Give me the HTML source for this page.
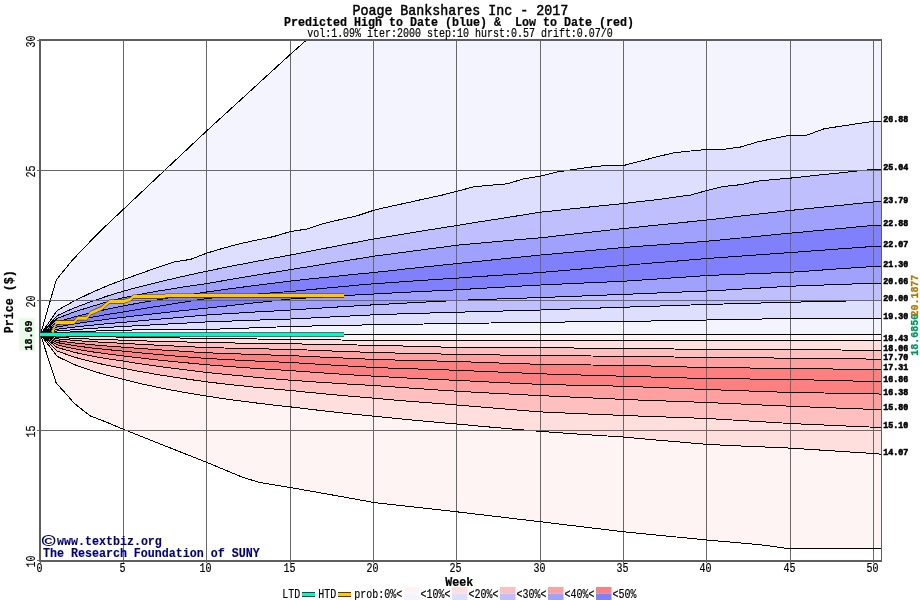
<!DOCTYPE html>
<html><head><meta charset="utf-8"><title>Poage Bankshares Inc - 2017</title>
<style>html,body{margin:0;padding:0;background:#fff}svg{display:block}text{font-family:"Liberation Mono",monospace;white-space:pre}</style></head><body>
<svg width="920" height="600" viewBox="0 0 920 600" xml:space="preserve">
<rect width="920" height="600" fill="#fff"/>
<defs><clipPath id="cp"><rect x="40.0" y="40.0" width="841.0" height="521.0"/></clipPath></defs>
<g clip-path="url(#cp)">
<polygon points="40.5,334.5 56.2,280.0 72.5,260.0 98.8,232.5 123.2,209.5 165.0,170.0 206.8,130.8 290.5,54.2 306.5,40.0 307.0,30.0 881.0,30.0 881.0,121.3 874.0,121.3 857.3,123.7 840.7,126.2 824.0,128.8 807.3,135.0 790.7,135.0 774.0,138.4 757.3,142.0 740.6,147.0 724.0,149.3 707.3,149.4 690.6,151.0 674.0,152.8 657.3,156.7 640.6,161.1 624.0,165.4 607.3,165.4 590.6,167.1 573.9,169.4 557.3,172.0 540.6,176.2 523.9,178.8 507.3,183.8 490.6,185.2 473.9,186.8 457.3,191.2 440.6,195.5 423.9,199.0 407.2,202.8 390.6,206.3 373.9,210.2 357.2,215.8 340.6,219.5 323.9,223.5 307.2,229.0 290.6,231.5 273.9,236.5 257.2,240.0 240.5,243.5 223.9,248.0 207.2,253.0 190.5,259.4 173.9,261.9 157.2,267.5 140.5,273.5 123.9,279.4 107.2,285.8 90.5,293.1 73.8,301.1 57.2,310.5 40.5,334.5" fill="#f4f4ff"/>
<polygon points="40.5,334.5 57.2,310.5 73.8,301.1 90.5,293.1 107.2,285.8 123.9,279.4 140.5,273.5 157.2,267.5 173.9,261.9 190.5,259.4 207.2,253.0 223.9,248.0 240.5,243.5 257.2,240.0 273.9,236.5 290.6,231.5 307.2,229.0 323.9,223.5 340.6,219.5 357.2,215.8 373.9,210.2 390.6,206.3 407.2,202.8 423.9,199.0 440.6,195.5 457.3,191.2 473.9,186.8 490.6,185.2 507.3,183.8 523.9,178.8 540.6,176.2 557.3,172.0 573.9,169.4 590.6,167.1 607.3,165.4 624.0,165.4 640.6,161.1 657.3,156.7 674.0,152.8 690.6,151.0 707.3,149.4 724.0,149.3 740.6,147.0 757.3,142.0 774.0,138.4 790.7,135.0 807.3,135.0 824.0,128.8 840.7,126.2 857.3,123.7 874.0,121.3 881.0,121.3 881.0,169.3 874.0,169.3 857.3,171.0 840.7,172.8 824.0,174.5 807.3,176.3 790.7,178.1 774.0,179.5 757.3,181.2 740.6,184.7 724.0,186.4 707.3,190.4 690.6,195.0 674.0,197.3 657.3,199.6 640.6,201.5 624.0,203.5 607.3,205.2 590.6,206.9 573.9,208.6 557.3,210.4 540.6,212.2 523.9,214.8 507.3,217.5 490.6,220.1 473.9,222.7 457.3,225.4 440.6,228.1 423.9,230.7 407.2,233.5 390.6,236.2 373.9,239.0 357.2,242.1 340.6,245.3 323.9,248.5 307.2,251.7 290.6,255.0 273.9,258.1 257.2,261.2 240.5,264.4 223.9,267.7 207.2,271.1 190.5,274.7 173.9,278.5 157.2,282.4 140.5,286.6 123.9,291.0 107.2,296.1 90.5,301.8 73.8,308.1 57.2,315.6 40.5,334.5" fill="#dedefe"/>
<polygon points="40.5,334.5 57.2,315.6 73.8,308.1 90.5,301.8 107.2,296.1 123.9,291.0 140.5,286.6 157.2,282.4 173.9,278.5 190.5,274.7 207.2,271.1 223.9,267.7 240.5,264.4 257.2,261.2 273.9,258.1 290.6,255.0 307.2,251.7 323.9,248.5 340.6,245.3 357.2,242.1 373.9,239.0 390.6,236.2 407.2,233.5 423.9,230.7 440.6,228.1 457.3,225.4 473.9,222.7 490.6,220.1 507.3,217.5 523.9,214.8 540.6,212.2 557.3,210.4 573.9,208.6 590.6,206.9 607.3,205.2 624.0,203.5 640.6,201.5 657.3,199.6 674.0,197.3 690.6,195.0 707.3,190.4 724.0,186.4 740.6,184.7 757.3,181.2 774.0,179.5 790.7,178.1 807.3,176.3 824.0,174.5 840.7,172.8 857.3,171.0 874.0,169.3 881.0,169.3 881.0,201.9 874.0,201.9 857.3,203.6 840.7,205.3 824.0,207.0 807.3,208.7 790.7,210.4 774.0,212.3 757.3,214.2 740.6,216.1 724.0,218.1 707.3,220.0 690.6,221.7 674.0,223.4 657.3,225.1 640.6,226.8 624.0,228.5 607.3,230.3 590.6,232.2 573.9,234.0 557.3,235.9 540.6,237.8 523.9,239.2 507.3,240.6 490.6,242.1 473.9,243.7 457.3,245.2 440.6,247.4 423.9,249.6 407.2,251.8 390.6,254.0 373.9,256.2 357.2,258.9 340.6,261.5 323.9,264.2 307.2,266.9 290.6,269.6 273.9,272.3 257.2,275.0 240.5,277.8 223.9,280.6 207.2,283.5 190.5,285.9 173.9,288.5 157.2,291.2 140.5,294.3 123.9,297.6 107.2,301.9 90.5,306.8 73.8,312.1 57.2,318.4 40.5,334.5" fill="#bfbffe"/>
<polygon points="40.5,334.5 57.2,318.4 73.8,312.1 90.5,306.8 107.2,301.9 123.9,297.6 140.5,294.3 157.2,291.2 173.9,288.5 190.5,285.9 207.2,283.5 223.9,280.6 240.5,277.8 257.2,275.0 273.9,272.3 290.6,269.6 307.2,266.9 323.9,264.2 340.6,261.5 357.2,258.9 373.9,256.2 390.6,254.0 407.2,251.8 423.9,249.6 440.6,247.4 457.3,245.2 473.9,243.7 490.6,242.1 507.3,240.6 523.9,239.2 540.6,237.8 557.3,235.9 573.9,234.0 590.6,232.2 607.3,230.3 624.0,228.5 640.6,226.8 657.3,225.1 674.0,223.4 690.6,221.7 707.3,220.0 724.0,218.1 740.6,216.1 757.3,214.2 774.0,212.3 790.7,210.4 807.3,208.7 824.0,207.0 840.7,205.3 857.3,203.6 874.0,201.9 881.0,201.9 881.0,225.4 874.0,225.4 857.3,226.9 840.7,228.5 824.0,230.0 807.3,231.6 790.7,233.1 774.0,234.7 757.3,236.4 740.6,238.0 724.0,239.6 707.3,241.2 690.6,242.5 674.0,243.7 657.3,245.0 640.6,246.2 624.0,247.5 607.3,249.0 590.6,250.5 573.9,252.0 557.3,253.5 540.6,255.0 523.9,256.7 507.3,258.4 490.6,260.1 473.9,261.8 457.3,263.5 440.6,265.3 423.9,267.0 407.2,268.8 390.6,270.7 373.9,272.5 357.2,274.1 340.6,275.8 323.9,277.5 307.2,279.2 290.6,281.0 273.9,283.1 257.2,285.2 240.5,287.4 223.9,289.6 207.2,291.9 190.5,294.5 173.9,297.1 157.2,299.9 140.5,302.7 123.9,305.8 107.2,309.2 90.5,312.9 73.8,317.1 57.2,322.0 40.5,334.5" fill="#a0a0fd"/>
<polygon points="40.5,334.5 57.2,322.0 73.8,317.1 90.5,312.9 107.2,309.2 123.9,305.8 140.5,302.7 157.2,299.9 173.9,297.1 190.5,294.5 207.2,291.9 223.9,289.6 240.5,287.4 257.2,285.2 273.9,283.1 290.6,281.0 307.2,279.2 323.9,277.5 340.6,275.8 357.2,274.1 373.9,272.5 390.6,270.7 407.2,268.8 423.9,267.0 440.6,265.3 457.3,263.5 473.9,261.8 490.6,260.1 507.3,258.4 523.9,256.7 540.6,255.0 557.3,253.5 573.9,252.0 590.6,250.5 607.3,249.0 624.0,247.5 640.6,246.2 657.3,245.0 674.0,243.7 690.6,242.5 707.3,241.2 724.0,239.6 740.6,238.0 757.3,236.4 774.0,234.7 790.7,233.1 807.3,231.6 824.0,230.0 840.7,228.5 857.3,226.9 874.0,225.4 881.0,225.4 881.0,246.4 874.0,246.4 857.3,247.6 840.7,248.8 824.0,250.1 807.3,251.3 790.7,252.5 774.0,253.7 757.3,254.9 740.6,256.1 724.0,257.3 707.3,258.5 690.6,259.9 674.0,261.3 657.3,262.6 640.6,264.0 624.0,265.4 607.3,266.8 590.6,268.2 573.9,269.7 557.3,271.1 540.6,272.5 523.9,273.6 507.3,274.7 490.6,275.8 473.9,276.9 457.3,278.1 440.6,279.2 423.9,280.3 407.2,281.4 390.6,282.6 373.9,283.8 357.2,285.2 340.6,286.8 323.9,288.3 307.2,289.9 290.6,291.5 273.9,292.7 257.2,294.1 240.5,295.5 223.9,296.9 207.2,298.5 190.5,301.1 173.9,303.7 157.2,306.4 140.5,309.1 123.9,311.9 107.2,314.5 90.5,317.5 73.8,320.8 57.2,324.7 40.5,334.5" fill="#8080fc"/>
<polygon points="40.5,334.5 57.2,324.7 73.8,320.8 90.5,317.5 107.2,314.5 123.9,311.9 140.5,309.1 157.2,306.4 173.9,303.7 190.5,301.1 207.2,298.5 223.9,296.9 240.5,295.5 257.2,294.1 273.9,292.7 290.6,291.5 307.2,289.9 323.9,288.3 340.6,286.8 357.2,285.2 373.9,283.8 390.6,282.6 407.2,281.4 423.9,280.3 440.6,279.2 457.3,278.1 473.9,276.9 490.6,275.8 507.3,274.7 523.9,273.6 540.6,272.5 557.3,271.1 573.9,269.7 590.6,268.2 607.3,266.8 624.0,265.4 640.6,264.0 657.3,262.6 674.0,261.3 690.6,259.9 707.3,258.5 724.0,257.3 740.6,256.1 757.3,254.9 774.0,253.7 790.7,252.5 807.3,251.3 824.0,250.1 840.7,248.8 857.3,247.6 874.0,246.4 881.0,246.4 881.0,266.4 874.0,266.4 857.3,267.6 840.7,268.7 824.0,269.9 807.3,271.1 790.7,272.2 774.0,272.9 757.3,273.5 740.6,274.2 724.0,274.8 707.3,275.5 690.6,276.7 674.0,277.8 657.3,279.0 640.6,280.1 624.0,281.2 607.3,282.0 590.6,282.7 573.9,283.5 557.3,284.2 540.6,285.0 523.9,285.9 507.3,286.9 490.6,287.8 473.9,288.8 457.3,289.8 440.6,290.6 423.9,291.4 407.2,292.2 390.6,293.1 373.9,294.0 357.2,294.9 340.6,295.9 323.9,296.9 307.2,297.9 290.6,299.0 273.9,300.8 257.2,302.6 240.5,304.4 223.9,306.3 207.2,308.1 190.5,309.8 173.9,311.6 157.2,313.4 140.5,315.3 123.9,317.2 107.2,319.3 90.5,321.5 73.8,324.0 57.2,327.0 40.5,334.5" fill="#8080fc"/>
<polygon points="40.5,334.5 57.2,327.0 73.8,324.0 90.5,321.5 107.2,319.3 123.9,317.2 140.5,315.3 157.2,313.4 173.9,311.6 190.5,309.8 207.2,308.1 223.9,306.3 240.5,304.4 257.2,302.6 273.9,300.8 290.6,299.0 307.2,297.9 323.9,296.9 340.6,295.9 357.2,294.9 373.9,294.0 390.6,293.1 407.2,292.2 423.9,291.4 440.6,290.6 457.3,289.8 473.9,288.8 490.6,287.8 507.3,286.9 523.9,285.9 540.6,285.0 557.3,284.2 573.9,283.5 590.6,282.7 607.3,282.0 624.0,281.2 640.6,280.1 657.3,279.0 674.0,277.8 690.6,276.7 707.3,275.5 724.0,274.8 740.6,274.2 757.3,273.5 774.0,272.9 790.7,272.2 807.3,271.1 824.0,269.9 840.7,268.7 857.3,267.6 874.0,266.4 881.0,266.4 881.0,283.2 874.0,283.2 857.3,283.8 840.7,284.4 824.0,285.0 807.3,285.6 790.7,286.2 774.0,287.2 757.3,288.2 740.6,289.1 724.0,290.1 707.3,291.0 690.6,291.7 674.0,292.3 657.3,293.0 640.6,293.7 624.0,294.4 607.3,295.0 590.6,295.7 573.9,296.3 557.3,296.9 540.6,297.6 523.9,298.1 507.3,298.7 490.6,299.2 473.9,299.8 457.3,300.4 440.6,301.3 423.9,302.1 407.2,303.0 390.6,303.9 373.9,304.8 357.2,305.8 340.6,306.8 323.9,307.9 307.2,308.9 290.6,310.0 273.9,311.0 257.2,311.9 240.5,312.9 223.9,313.9 207.2,315.0 190.5,316.4 173.9,317.9 157.2,319.3 140.5,320.8 123.9,322.3 107.2,323.7 90.5,325.3 73.8,327.1 57.2,329.2 40.5,334.5" fill="#a0a0fd"/>
<polygon points="40.5,334.5 57.2,329.2 73.8,327.1 90.5,325.3 107.2,323.7 123.9,322.3 140.5,320.8 157.2,319.3 173.9,317.9 190.5,316.4 207.2,315.0 223.9,313.9 240.5,312.9 257.2,311.9 273.9,311.0 290.6,310.0 307.2,308.9 323.9,307.9 340.6,306.8 357.2,305.8 373.9,304.8 390.6,303.9 407.2,303.0 423.9,302.1 440.6,301.3 457.3,300.4 473.9,299.8 490.6,299.2 507.3,298.7 523.9,298.1 540.6,297.6 557.3,296.9 573.9,296.3 590.6,295.7 607.3,295.0 624.0,294.4 640.6,293.7 657.3,293.0 674.0,292.3 690.6,291.7 707.3,291.0 724.0,290.1 740.6,289.1 757.3,288.2 774.0,287.2 790.7,286.2 807.3,285.6 824.0,285.0 840.7,284.4 857.3,283.8 874.0,283.2 881.0,283.2 881.0,300.4 874.0,300.4 857.3,300.8 840.7,301.1 824.0,301.5 807.3,301.9 790.7,302.2 774.0,302.7 757.3,303.1 740.6,303.5 724.0,304.0 707.3,304.4 690.6,305.0 674.0,305.5 657.3,306.1 640.6,306.7 624.0,307.2 607.3,307.8 590.6,308.3 573.9,308.9 557.3,309.4 540.6,310.0 523.9,310.4 507.3,310.9 490.6,311.3 473.9,311.8 457.3,312.2 440.6,312.7 423.9,313.2 407.2,313.7 390.6,314.2 373.9,314.8 357.2,315.6 340.6,316.5 323.9,317.3 307.2,318.2 290.6,319.0 273.9,319.5 257.2,320.1 240.5,320.7 223.9,321.3 207.2,321.9 190.5,322.8 173.9,323.7 157.2,324.6 140.5,325.5 123.9,326.5 107.2,327.4 90.5,328.5 73.8,329.7 57.2,331.0 40.5,334.5" fill="#bfbffe"/>
<polygon points="40.5,334.5 57.2,331.0 73.8,329.7 90.5,328.5 107.2,327.4 123.9,326.5 140.5,325.5 157.2,324.6 173.9,323.7 190.5,322.8 207.2,321.9 223.9,321.3 240.5,320.7 257.2,320.1 273.9,319.5 290.6,319.0 307.2,318.2 323.9,317.3 340.6,316.5 357.2,315.6 373.9,314.8 390.6,314.2 407.2,313.7 423.9,313.2 440.6,312.7 457.3,312.2 473.9,311.8 490.6,311.3 507.3,310.9 523.9,310.4 540.6,310.0 557.3,309.4 573.9,308.9 590.6,308.3 607.3,307.8 624.0,307.2 640.6,306.7 657.3,306.1 674.0,305.5 690.6,305.0 707.3,304.4 724.0,304.0 740.6,303.5 757.3,303.1 774.0,302.7 790.7,302.2 807.3,301.9 824.0,301.5 840.7,301.1 857.3,300.8 874.0,300.4 881.0,300.4 881.0,318.5 874.0,318.5 857.3,318.5 840.7,318.5 824.0,318.5 807.3,318.5 790.7,318.5 774.0,318.8 757.3,319.1 740.6,319.4 724.0,319.7 707.3,320.0 690.6,320.3 674.0,320.6 657.3,320.9 640.6,321.2 624.0,321.5 607.3,321.6 590.6,321.8 573.9,321.9 557.3,322.1 540.6,322.2 523.9,322.5 507.3,322.7 490.6,323.0 473.9,323.2 457.3,323.5 440.6,323.7 423.9,324.0 407.2,324.2 390.6,324.5 373.9,324.8 357.2,325.1 340.6,325.4 323.9,325.8 307.2,326.1 290.6,326.5 273.9,327.1 257.2,327.7 240.5,328.3 223.9,328.9 207.2,329.4 190.5,329.4 173.9,329.5 157.2,329.7 140.5,329.9 123.9,330.1 107.2,330.6 90.5,331.2 73.8,331.8 57.2,332.6 40.5,334.5" fill="#dedefe"/>
<polygon points="40.5,334.5 57.2,332.6 73.8,331.8 90.5,331.2 107.2,330.6 123.9,330.1 140.5,329.9 157.2,329.7 173.9,329.5 190.5,329.4 207.2,329.4 223.9,328.9 240.5,328.3 257.2,327.7 273.9,327.1 290.6,326.5 307.2,326.1 323.9,325.8 340.6,325.4 357.2,325.1 373.9,324.8 390.6,324.5 407.2,324.2 423.9,324.0 440.6,323.7 457.3,323.5 473.9,323.2 490.6,323.0 507.3,322.7 523.9,322.5 540.6,322.2 557.3,322.1 573.9,321.9 590.6,321.8 607.3,321.6 624.0,321.5 640.6,321.2 657.3,320.9 674.0,320.6 690.6,320.3 707.3,320.0 724.0,319.7 740.6,319.4 757.3,319.1 774.0,318.8 790.7,318.5 807.3,318.5 824.0,318.5 840.7,318.5 857.3,318.5 874.0,318.5 881.0,318.5 881.0,334.5 40.0,334.5" fill="#f4f4ff"/>
<polygon points="40.0,334.5 881.0,334.5 881.0,340.6 879.5,340.6 878.5,340.4 874.0,340.4 857.3,340.4 840.7,340.4 824.0,340.4 807.3,340.4 790.7,340.4 774.0,340.4 757.3,340.4 740.6,340.4 724.0,340.4 707.3,340.4 690.6,340.4 674.0,340.4 657.3,340.4 640.6,340.4 624.0,340.4 607.3,340.4 590.6,340.4 573.9,340.4 557.3,340.4 540.6,340.4 523.9,340.4 507.3,340.4 490.6,340.4 473.9,340.4 457.3,340.4 440.6,340.4 423.9,340.4 407.2,340.4 390.6,340.4 373.9,340.4 357.2,340.2 340.6,340.0 323.9,339.8 307.2,339.6 290.6,339.4 273.9,339.2 257.2,339.0 240.5,338.8 223.9,338.6 207.2,338.4 190.5,338.2 173.9,337.9 157.2,337.7 140.5,337.4 123.9,337.1 107.2,336.9 90.5,336.6 73.8,336.2 57.2,335.8 40.5,334.5" fill="#fff4f4"/>
<polygon points="40.5,334.5 57.2,335.8 73.8,336.2 90.5,336.6 107.2,336.9 123.9,337.1 140.5,337.4 157.2,337.7 173.9,337.9 190.5,338.2 207.2,338.4 223.9,338.6 240.5,338.8 257.2,339.0 273.9,339.2 290.6,339.4 307.2,339.6 323.9,339.8 340.6,340.0 357.2,340.2 373.9,340.4 390.6,340.4 407.2,340.4 423.9,340.4 440.6,340.4 457.3,340.4 473.9,340.4 490.6,340.4 507.3,340.4 523.9,340.4 540.6,340.4 557.3,340.4 573.9,340.4 590.6,340.4 607.3,340.4 624.0,340.4 640.6,340.4 657.3,340.4 674.0,340.4 690.6,340.4 707.3,340.4 724.0,340.4 740.6,340.4 757.3,340.4 774.0,340.4 790.7,340.4 807.3,340.4 824.0,340.4 840.7,340.4 857.3,340.4 874.0,340.4 878.5,340.4 879.5,340.6 881.0,340.6 881.0,350.4 879.5,350.4 878.5,350.4 874.0,350.4 857.3,350.2 840.7,350.0 824.0,349.8 807.3,349.6 790.7,349.4 774.0,349.4 757.3,349.4 740.6,349.4 724.0,349.4 707.3,349.4 690.6,349.2 674.0,349.0 657.3,348.8 640.6,348.6 624.0,348.4 607.3,348.3 590.6,348.2 573.9,348.0 557.3,347.9 540.6,347.8 523.9,347.7 507.3,347.7 490.6,347.6 473.9,347.6 457.3,347.5 440.6,347.0 423.9,346.6 407.2,346.1 390.6,345.7 373.9,345.2 357.2,345.0 340.6,344.7 323.9,344.4 307.2,344.1 290.6,343.8 273.9,343.5 257.2,343.3 240.5,343.1 223.9,342.8 207.2,342.5 190.5,342.1 173.9,341.7 157.2,341.3 140.5,340.8 123.9,340.2 107.2,339.7 90.5,339.1 73.8,338.3 57.2,337.3 40.5,334.5" fill="#ffdede"/>
<polygon points="40.5,334.5 57.2,337.3 73.8,338.3 90.5,339.1 107.2,339.7 123.9,340.2 140.5,340.8 157.2,341.3 173.9,341.7 190.5,342.1 207.2,342.5 223.9,342.8 240.5,343.1 257.2,343.3 273.9,343.5 290.6,343.8 307.2,344.1 323.9,344.4 340.6,344.7 357.2,345.0 373.9,345.2 390.6,345.7 407.2,346.1 423.9,346.6 440.6,347.0 457.3,347.5 473.9,347.6 490.6,347.6 507.3,347.7 523.9,347.7 540.6,347.8 557.3,347.9 573.9,348.0 590.6,348.2 607.3,348.3 624.0,348.4 640.6,348.6 657.3,348.8 674.0,349.0 690.6,349.2 707.3,349.4 724.0,349.4 740.6,349.4 757.3,349.4 774.0,349.4 790.7,349.4 807.3,349.6 824.0,349.8 840.7,350.0 857.3,350.2 874.0,350.4 878.5,350.4 879.5,350.4 881.0,350.4 881.0,359.5 879.5,359.5 878.5,359.1 874.0,359.1 857.3,358.9 840.7,358.7 824.0,358.5 807.3,358.3 790.7,358.1 774.0,358.0 757.3,357.9 740.6,357.8 724.0,357.6 707.3,357.5 690.6,357.3 674.0,357.0 657.3,356.8 640.6,356.5 624.0,356.2 607.3,356.1 590.6,356.0 573.9,355.8 557.3,355.7 540.6,355.5 523.9,355.3 507.3,355.1 490.6,354.9 473.9,354.6 457.3,354.4 440.6,354.0 423.9,353.7 407.2,353.3 390.6,352.9 373.9,352.5 357.2,351.9 340.6,351.3 323.9,350.7 307.2,350.0 290.6,349.4 273.9,349.1 257.2,348.8 240.5,348.4 223.9,348.0 207.2,347.5 190.5,346.8 173.9,346.0 157.2,345.2 140.5,344.3 123.9,343.4 107.2,342.5 90.5,341.6 73.8,340.4 57.2,338.8 40.5,334.5" fill="#ffbfbf"/>
<polygon points="40.5,334.5 57.2,338.8 73.8,340.4 90.5,341.6 107.2,342.5 123.9,343.4 140.5,344.3 157.2,345.2 173.9,346.0 190.5,346.8 207.2,347.5 223.9,348.0 240.5,348.4 257.2,348.8 273.9,349.1 290.6,349.4 307.2,350.0 323.9,350.7 340.6,351.3 357.2,351.9 373.9,352.5 390.6,352.9 407.2,353.3 423.9,353.7 440.6,354.0 457.3,354.4 473.9,354.6 490.6,354.9 507.3,355.1 523.9,355.3 540.6,355.5 557.3,355.7 573.9,355.8 590.6,356.0 607.3,356.1 624.0,356.2 640.6,356.5 657.3,356.8 674.0,357.0 690.6,357.3 707.3,357.5 724.0,357.6 740.6,357.8 757.3,357.9 774.0,358.0 790.7,358.1 807.3,358.3 824.0,358.5 840.7,358.7 857.3,358.9 874.0,359.1 878.5,359.1 879.5,359.5 881.0,359.5 881.0,369.7 879.5,369.7 878.5,369.4 874.0,369.4 857.3,369.2 840.7,369.1 824.0,368.9 807.3,368.7 790.7,368.5 774.0,368.3 757.3,368.1 740.6,367.9 724.0,367.7 707.3,367.5 690.6,367.1 674.0,366.6 657.3,366.2 640.6,365.7 624.0,365.2 607.3,365.1 590.6,365.0 573.9,364.8 557.3,364.6 540.6,364.4 523.9,363.8 507.3,363.3 490.6,362.7 473.9,362.1 457.3,361.5 440.6,361.1 423.9,360.7 407.2,360.3 390.6,359.9 373.9,359.4 357.2,358.7 340.6,357.9 323.9,357.2 307.2,356.4 290.6,355.6 273.9,355.1 257.2,354.6 240.5,354.0 223.9,353.4 207.2,352.8 190.5,351.8 173.9,350.7 157.2,349.7 140.5,348.5 123.9,347.2 107.2,346.0 90.5,344.6 73.8,342.9 57.2,340.7 40.5,334.5" fill="#ffa0a0"/>
<polygon points="40.5,334.5 57.2,340.7 73.8,342.9 90.5,344.6 107.2,346.0 123.9,347.2 140.5,348.5 157.2,349.7 173.9,350.7 190.5,351.8 207.2,352.8 223.9,353.4 240.5,354.0 257.2,354.6 273.9,355.1 290.6,355.6 307.2,356.4 323.9,357.2 340.6,357.9 357.2,358.7 373.9,359.4 390.6,359.9 407.2,360.3 423.9,360.7 440.6,361.1 457.3,361.5 473.9,362.1 490.6,362.7 507.3,363.3 523.9,363.8 540.6,364.4 557.3,364.6 573.9,364.8 590.6,365.0 607.3,365.1 624.0,365.2 640.6,365.7 657.3,366.2 674.0,366.6 690.6,367.1 707.3,367.5 724.0,367.7 740.6,367.9 757.3,368.1 774.0,368.3 790.7,368.5 807.3,368.7 824.0,368.9 840.7,369.1 857.3,369.2 874.0,369.4 878.5,369.4 879.5,369.7 881.0,369.7 881.0,381.6 879.5,381.6 878.5,381.5 874.0,381.5 857.3,381.1 840.7,380.7 824.0,380.3 807.3,379.8 790.7,379.4 774.0,379.2 757.3,379.1 740.6,378.9 724.0,378.7 707.3,378.5 690.6,378.1 674.0,377.6 657.3,377.2 640.6,376.7 624.0,376.2 607.3,375.8 590.6,375.3 573.9,374.8 557.3,374.3 540.6,373.8 523.9,373.1 507.3,372.4 490.6,371.7 473.9,371.0 457.3,370.2 440.6,369.8 423.9,369.2 407.2,368.7 390.6,368.1 373.9,367.5 357.2,366.5 340.6,365.6 323.9,364.6 307.2,363.5 290.6,362.5 273.9,361.8 257.2,361.1 240.5,360.3 223.9,359.4 207.2,358.5 190.5,357.2 173.9,355.9 157.2,354.4 140.5,352.9 123.9,351.2 107.2,349.6 90.5,347.8 73.8,345.6 57.2,342.6 40.5,334.5" fill="#fd8080"/>
<polygon points="40.5,334.5 57.2,342.6 73.8,345.6 90.5,347.8 107.2,349.6 123.9,351.2 140.5,352.9 157.2,354.4 173.9,355.9 190.5,357.2 207.2,358.5 223.9,359.4 240.5,360.3 257.2,361.1 273.9,361.8 290.6,362.5 307.2,363.5 323.9,364.6 340.6,365.6 357.2,366.5 373.9,367.5 390.6,368.1 407.2,368.7 423.9,369.2 440.6,369.8 457.3,370.2 473.9,371.0 490.6,371.7 507.3,372.4 523.9,373.1 540.6,373.8 557.3,374.3 573.9,374.8 590.6,375.3 607.3,375.8 624.0,376.2 640.6,376.7 657.3,377.2 674.0,377.6 690.6,378.1 707.3,378.5 724.0,378.7 740.6,378.9 757.3,379.1 774.0,379.2 790.7,379.4 807.3,379.8 824.0,380.3 840.7,380.7 857.3,381.1 874.0,381.5 878.5,381.5 879.5,381.6 881.0,381.6 881.0,394.3 879.5,394.3 878.5,393.6 874.0,393.6 857.3,393.4 840.7,393.2 824.0,393.0 807.3,392.8 790.7,392.5 774.0,391.9 757.3,391.3 740.6,390.7 724.0,390.1 707.3,389.5 690.6,388.9 674.0,388.2 657.3,387.6 640.6,386.9 624.0,386.2 607.3,385.9 590.6,385.6 573.9,385.2 557.3,384.8 540.6,384.4 523.9,383.6 507.3,382.9 490.6,382.1 473.9,381.2 457.3,380.4 440.6,379.6 423.9,378.8 407.2,378.0 390.6,377.1 373.9,376.2 357.2,375.2 340.6,374.1 323.9,373.0 307.2,371.8 290.6,370.6 273.9,369.6 257.2,368.5 240.5,367.3 223.9,366.1 207.2,364.8 190.5,363.2 173.9,361.6 157.2,359.9 140.5,358.0 123.9,356.0 107.2,353.9 90.5,351.6 73.8,348.7 57.2,344.9 40.5,334.5" fill="#fd8080"/>
<polygon points="40.5,334.5 57.2,344.9 73.8,348.7 90.5,351.6 107.2,353.9 123.9,356.0 140.5,358.0 157.2,359.9 173.9,361.6 190.5,363.2 207.2,364.8 223.9,366.1 240.5,367.3 257.2,368.5 273.9,369.6 290.6,370.6 307.2,371.8 323.9,373.0 340.6,374.1 357.2,375.2 373.9,376.2 390.6,377.1 407.2,378.0 423.9,378.8 440.6,379.6 457.3,380.4 473.9,381.2 490.6,382.1 507.3,382.9 523.9,383.6 540.6,384.4 557.3,384.8 573.9,385.2 590.6,385.6 607.3,385.9 624.0,386.2 640.6,386.9 657.3,387.6 674.0,388.2 690.6,388.9 707.3,389.5 724.0,390.1 740.6,390.7 757.3,391.3 774.0,391.9 790.7,392.5 807.3,392.8 824.0,393.0 840.7,393.2 857.3,393.4 874.0,393.6 878.5,393.6 879.5,394.3 881.0,394.3 881.0,409.6 879.5,409.6 878.5,409.4 874.0,409.4 857.3,408.8 840.7,408.2 824.0,407.5 807.3,406.9 790.7,406.2 774.0,405.5 757.3,404.8 740.6,404.0 724.0,403.3 707.3,402.5 690.6,401.9 674.0,401.3 657.3,400.7 640.6,400.1 624.0,399.4 607.3,398.7 590.6,397.9 573.9,397.2 557.3,396.4 540.6,395.6 523.9,394.8 507.3,393.9 490.6,393.1 473.9,392.2 457.3,391.2 440.6,390.2 423.9,389.0 407.2,387.9 390.6,386.7 373.9,385.5 357.2,384.6 340.6,383.6 323.9,382.5 307.2,381.4 290.6,380.2 273.9,378.8 257.2,377.4 240.5,375.8 223.9,374.2 207.2,372.5 190.5,370.5 173.9,368.4 157.2,366.2 140.5,363.8 123.9,361.2 107.2,358.7 90.5,355.8 73.8,352.2 57.2,347.5 40.5,334.5" fill="#ffa0a0"/>
<polygon points="40.5,334.5 57.2,347.5 73.8,352.2 90.5,355.8 107.2,358.7 123.9,361.2 140.5,363.8 157.2,366.2 173.9,368.4 190.5,370.5 207.2,372.5 223.9,374.2 240.5,375.8 257.2,377.4 273.9,378.8 290.6,380.2 307.2,381.4 323.9,382.5 340.6,383.6 357.2,384.6 373.9,385.5 390.6,386.7 407.2,387.9 423.9,389.0 440.6,390.2 457.3,391.2 473.9,392.2 490.6,393.1 507.3,393.9 523.9,394.8 540.6,395.6 557.3,396.4 573.9,397.2 590.6,397.9 607.3,398.7 624.0,399.4 640.6,400.1 657.3,400.7 674.0,401.3 690.6,401.9 707.3,402.5 724.0,403.3 740.6,404.0 757.3,404.8 774.0,405.5 790.7,406.2 807.3,406.9 824.0,407.5 840.7,408.2 857.3,408.8 874.0,409.4 878.5,409.4 879.5,409.6 881.0,409.6 881.0,427.7 879.5,427.7 878.5,427.2 874.0,427.2 857.3,426.5 840.7,425.8 824.0,425.0 807.3,424.3 790.7,423.5 774.0,422.5 757.3,421.5 740.6,420.5 724.0,419.5 707.3,418.5 690.6,417.9 674.0,417.3 657.3,416.7 640.6,416.1 624.0,415.4 607.3,414.8 590.6,414.1 573.9,413.4 557.3,412.7 540.6,411.9 523.9,410.6 507.3,409.2 490.6,407.8 473.9,406.4 457.3,405.0 440.6,403.7 423.9,402.4 407.2,401.1 390.6,399.7 373.9,398.2 357.2,396.8 340.6,395.3 323.9,393.8 307.2,392.2 290.6,390.5 273.9,389.0 257.2,387.4 240.5,385.7 223.9,383.9 207.2,381.9 190.5,379.6 173.9,377.1 157.2,374.5 140.5,371.6 123.9,368.5 107.2,365.3 90.5,361.5 73.8,357.0 57.2,351.0 40.5,334.5" fill="#ffbfbf"/>
<polygon points="40.5,334.5 57.2,351.0 73.8,357.0 90.5,361.5 107.2,365.3 123.9,368.5 140.5,371.6 157.2,374.5 173.9,377.1 190.5,379.6 207.2,381.9 223.9,383.9 240.5,385.7 257.2,387.4 273.9,389.0 290.6,390.5 307.2,392.2 323.9,393.8 340.6,395.3 357.2,396.8 373.9,398.2 390.6,399.7 407.2,401.1 423.9,402.4 440.6,403.7 457.3,405.0 473.9,406.4 490.6,407.8 507.3,409.2 523.9,410.6 540.6,411.9 557.3,412.7 573.9,413.4 590.6,414.1 607.3,414.8 624.0,415.4 640.6,416.1 657.3,416.7 674.0,417.3 690.6,417.9 707.3,418.5 724.0,419.5 740.6,420.5 757.3,421.5 774.0,422.5 790.7,423.5 807.3,424.3 824.0,425.0 840.7,425.8 857.3,426.5 874.0,427.2 878.5,427.2 879.5,427.7 881.0,427.7 881.0,454.8 879.5,454.8 878.5,453.5 874.0,453.5 857.3,452.5 840.7,451.4 824.0,450.3 807.3,449.2 790.7,448.1 774.0,447.4 757.3,446.7 740.6,446.0 724.0,445.2 707.3,444.4 690.6,443.0 674.0,441.5 657.3,440.1 640.6,438.6 624.0,437.1 607.3,436.0 590.6,434.9 573.9,433.8 557.3,432.6 540.6,431.4 523.9,430.0 507.3,428.6 490.6,427.1 473.9,425.6 457.3,424.0 440.6,422.6 423.9,421.1 407.2,419.5 390.6,417.9 373.9,416.2 357.2,414.5 340.6,412.8 323.9,410.9 307.2,408.9 290.6,406.9 273.9,405.1 257.2,403.1 240.5,401.0 223.9,398.7 207.2,396.2 190.5,393.5 173.9,390.5 157.2,387.2 140.5,383.6 123.9,379.6 107.2,375.3 90.5,370.3 73.8,364.4 57.2,356.4 40.5,334.5" fill="#ffdede"/>
<polygon points="40.5,334.5 57.2,356.4 73.8,364.4 90.5,370.3 107.2,375.3 123.9,379.6 140.5,383.6 157.2,387.2 173.9,390.5 190.5,393.5 207.2,396.2 223.9,398.7 240.5,401.0 257.2,403.1 273.9,405.1 290.6,406.9 307.2,408.9 323.9,410.9 340.6,412.8 357.2,414.5 373.9,416.2 390.6,417.9 407.2,419.5 423.9,421.1 440.6,422.6 457.3,424.0 473.9,425.6 490.6,427.1 507.3,428.6 523.9,430.0 540.6,431.4 557.3,432.6 573.9,433.8 590.6,434.9 607.3,436.0 624.0,437.1 640.6,438.6 657.3,440.1 674.0,441.5 690.6,443.0 707.3,444.4 724.0,445.2 740.6,446.0 757.3,446.7 774.0,447.4 790.7,448.1 807.3,449.2 824.0,450.3 840.7,451.4 857.3,452.5 874.0,453.5 878.5,453.5 879.5,454.8 881.0,454.8 881.0,548.4 787.0,548.4 760.0,544.7 706.8,540.0 623.8,531.8 540.8,521.8 456.8,511.8 373.8,502.5 337.0,495.8 290.2,487.5 259.5,482.5 242.0,477.0 207.0,462.5 123.8,429.5 106.7,422.2 90.0,415.8 74.2,403.3 70.0,398.3 56.2,383.0 40.5,334.5" fill="#fff4f4"/>
</g>
<path d="M123.5 41.0V563.0M206.5 41.0V563.0M290.5 41.0V563.0M373.5 41.0V563.0M456.5 41.0V563.0M540.5 41.0V563.0M623.5 41.0V563.0M706.5 41.0V563.0M790.5 41.0V563.0M873.5 41.0V563.0" stroke="#686868" stroke-width="1" fill="none" shape-rendering="crispEdges"/>
<path d="M37 40.5H39M37 560.5H39M40.5 562V563" stroke="#686868" stroke-width="1" fill="none" shape-rendering="crispEdges"/>
<g clip-path="url(#cp)" stroke-linejoin="round" shape-rendering="crispEdges">
<polyline points="40.5,334.5 56.2,280.0 72.5,260.0 98.8,232.5 123.2,209.5 165.0,170.0 206.8,130.8 290.5,54.2 306.5,40.0" fill="none" stroke="#000" stroke-width="1.0" />
<polyline points="40.5,334.5 57.2,310.5 73.8,301.1 90.5,293.1 107.2,285.8 123.9,279.4 140.5,273.5 157.2,267.5 173.9,261.9 190.5,259.4 207.2,253.0 223.9,248.0 240.5,243.5 257.2,240.0 273.9,236.5 290.6,231.5 307.2,229.0 323.9,223.5 340.6,219.5 357.2,215.8 373.9,210.2 390.6,206.3 407.2,202.8 423.9,199.0 440.6,195.5 457.3,191.2 473.9,186.8 490.6,185.2 507.3,183.8 523.9,178.8 540.6,176.2 557.3,172.0 573.9,169.4 590.6,167.1 607.3,165.4 624.0,165.4 640.6,161.1 657.3,156.7 674.0,152.8 690.6,151.0 707.3,149.4 724.0,149.3 740.6,147.0 757.3,142.0 774.0,138.4 790.7,135.0 807.3,135.0 824.0,128.8 840.7,126.2 857.3,123.7 874.0,121.3 881.0,121.3" fill="none" stroke="#000" stroke-width="1.0" />
<polyline points="40.5,334.5 57.2,315.6 73.8,308.1 90.5,301.8 107.2,296.1 123.9,291.0 140.5,286.6 157.2,282.4 173.9,278.5 190.5,274.7 207.2,271.1 223.9,267.7 240.5,264.4 257.2,261.2 273.9,258.1 290.6,255.0 307.2,251.7 323.9,248.5 340.6,245.3 357.2,242.1 373.9,239.0 390.6,236.2 407.2,233.5 423.9,230.7 440.6,228.1 457.3,225.4 473.9,222.7 490.6,220.1 507.3,217.5 523.9,214.8 540.6,212.2 557.3,210.4 573.9,208.6 590.6,206.9 607.3,205.2 624.0,203.5 640.6,201.5 657.3,199.6 674.0,197.3 690.6,195.0 707.3,190.4 724.0,186.4 740.6,184.7 757.3,181.2 774.0,179.5 790.7,178.1 807.3,176.3 824.0,174.5 840.7,172.8 857.3,171.0 874.0,169.3 881.0,169.3" fill="none" stroke="#000" stroke-width="1.0" />
<polyline points="40.5,334.5 57.2,318.4 73.8,312.1 90.5,306.8 107.2,301.9 123.9,297.6 140.5,294.3 157.2,291.2 173.9,288.5 190.5,285.9 207.2,283.5 223.9,280.6 240.5,277.8 257.2,275.0 273.9,272.3 290.6,269.6 307.2,266.9 323.9,264.2 340.6,261.5 357.2,258.9 373.9,256.2 390.6,254.0 407.2,251.8 423.9,249.6 440.6,247.4 457.3,245.2 473.9,243.7 490.6,242.1 507.3,240.6 523.9,239.2 540.6,237.8 557.3,235.9 573.9,234.0 590.6,232.2 607.3,230.3 624.0,228.5 640.6,226.8 657.3,225.1 674.0,223.4 690.6,221.7 707.3,220.0 724.0,218.1 740.6,216.1 757.3,214.2 774.0,212.3 790.7,210.4 807.3,208.7 824.0,207.0 840.7,205.3 857.3,203.6 874.0,201.9 881.0,201.9" fill="none" stroke="#000" stroke-width="1.0" />
<polyline points="40.5,334.5 57.2,322.0 73.8,317.1 90.5,312.9 107.2,309.2 123.9,305.8 140.5,302.7 157.2,299.9 173.9,297.1 190.5,294.5 207.2,291.9 223.9,289.6 240.5,287.4 257.2,285.2 273.9,283.1 290.6,281.0 307.2,279.2 323.9,277.5 340.6,275.8 357.2,274.1 373.9,272.5 390.6,270.7 407.2,268.8 423.9,267.0 440.6,265.3 457.3,263.5 473.9,261.8 490.6,260.1 507.3,258.4 523.9,256.7 540.6,255.0 557.3,253.5 573.9,252.0 590.6,250.5 607.3,249.0 624.0,247.5 640.6,246.2 657.3,245.0 674.0,243.7 690.6,242.5 707.3,241.2 724.0,239.6 740.6,238.0 757.3,236.4 774.0,234.7 790.7,233.1 807.3,231.6 824.0,230.0 840.7,228.5 857.3,226.9 874.0,225.4 881.0,225.4" fill="none" stroke="#000" stroke-width="1.0" />
<polyline points="40.5,334.5 57.2,324.7 73.8,320.8 90.5,317.5 107.2,314.5 123.9,311.9 140.5,309.1 157.2,306.4 173.9,303.7 190.5,301.1 207.2,298.5 223.9,296.9 240.5,295.5 257.2,294.1 273.9,292.7 290.6,291.5 307.2,289.9 323.9,288.3 340.6,286.8 357.2,285.2 373.9,283.8 390.6,282.6 407.2,281.4 423.9,280.3 440.6,279.2 457.3,278.1 473.9,276.9 490.6,275.8 507.3,274.7 523.9,273.6 540.6,272.5 557.3,271.1 573.9,269.7 590.6,268.2 607.3,266.8 624.0,265.4 640.6,264.0 657.3,262.6 674.0,261.3 690.6,259.9 707.3,258.5 724.0,257.3 740.6,256.1 757.3,254.9 774.0,253.7 790.7,252.5 807.3,251.3 824.0,250.1 840.7,248.8 857.3,247.6 874.0,246.4 881.0,246.4" fill="none" stroke="#000" stroke-width="1.0" />
<polyline points="40.5,334.5 57.2,327.0 73.8,324.0 90.5,321.5 107.2,319.3 123.9,317.2 140.5,315.3 157.2,313.4 173.9,311.6 190.5,309.8 207.2,308.1 223.9,306.3 240.5,304.4 257.2,302.6 273.9,300.8 290.6,299.0 307.2,297.9 323.9,296.9 340.6,295.9 357.2,294.9 373.9,294.0 390.6,293.1 407.2,292.2 423.9,291.4 440.6,290.6 457.3,289.8 473.9,288.8 490.6,287.8 507.3,286.9 523.9,285.9 540.6,285.0 557.3,284.2 573.9,283.5 590.6,282.7 607.3,282.0 624.0,281.2 640.6,280.1 657.3,279.0 674.0,277.8 690.6,276.7 707.3,275.5 724.0,274.8 740.6,274.2 757.3,273.5 774.0,272.9 790.7,272.2 807.3,271.1 824.0,269.9 840.7,268.7 857.3,267.6 874.0,266.4 881.0,266.4" fill="none" stroke="#000" stroke-width="1.0" />
<polyline points="40.5,334.5 57.2,329.2 73.8,327.1 90.5,325.3 107.2,323.7 123.9,322.3 140.5,320.8 157.2,319.3 173.9,317.9 190.5,316.4 207.2,315.0 223.9,313.9 240.5,312.9 257.2,311.9 273.9,311.0 290.6,310.0 307.2,308.9 323.9,307.9 340.6,306.8 357.2,305.8 373.9,304.8 390.6,303.9 407.2,303.0 423.9,302.1 440.6,301.3 457.3,300.4 473.9,299.8 490.6,299.2 507.3,298.7 523.9,298.1 540.6,297.6 557.3,296.9 573.9,296.3 590.6,295.7 607.3,295.0 624.0,294.4 640.6,293.7 657.3,293.0 674.0,292.3 690.6,291.7 707.3,291.0 724.0,290.1 740.6,289.1 757.3,288.2 774.0,287.2 790.7,286.2 807.3,285.6 824.0,285.0 840.7,284.4 857.3,283.8 874.0,283.2 881.0,283.2" fill="none" stroke="#000" stroke-width="1.0" />
<polyline points="40.5,334.5 57.2,331.0 73.8,329.7 90.5,328.5 107.2,327.4 123.9,326.5 140.5,325.5 157.2,324.6 173.9,323.7 190.5,322.8 207.2,321.9 223.9,321.3 240.5,320.7 257.2,320.1 273.9,319.5 290.6,319.0 307.2,318.2 323.9,317.3 340.6,316.5 357.2,315.6 373.9,314.8 390.6,314.2 407.2,313.7 423.9,313.2 440.6,312.7 457.3,312.2 473.9,311.8 490.6,311.3 507.3,310.9 523.9,310.4 540.6,310.0 557.3,309.4 573.9,308.9 590.6,308.3 607.3,307.8 624.0,307.2 640.6,306.7 657.3,306.1 674.0,305.5 690.6,305.0 707.3,304.4 724.0,304.0 740.6,303.5 757.3,303.1 774.0,302.7 790.7,302.2 807.3,301.9 824.0,301.5 840.7,301.1 857.3,300.8 874.0,300.4 881.0,300.4" fill="none" stroke="#000" stroke-width="1.0" />
<polyline points="40.5,334.5 57.2,332.6 73.8,331.8 90.5,331.2 107.2,330.6 123.9,330.1 140.5,329.9 157.2,329.7 173.9,329.5 190.5,329.4 207.2,329.4 223.9,328.9 240.5,328.3 257.2,327.7 273.9,327.1 290.6,326.5 307.2,326.1 323.9,325.8 340.6,325.4 357.2,325.1 373.9,324.8 390.6,324.5 407.2,324.2 423.9,324.0 440.6,323.7 457.3,323.5 473.9,323.2 490.6,323.0 507.3,322.7 523.9,322.5 540.6,322.2 557.3,322.1 573.9,321.9 590.6,321.8 607.3,321.6 624.0,321.5 640.6,321.2 657.3,320.9 674.0,320.6 690.6,320.3 707.3,320.0 724.0,319.7 740.6,319.4 757.3,319.1 774.0,318.8 790.7,318.5 807.3,318.5 824.0,318.5 840.7,318.5 857.3,318.5 874.0,318.5 881.0,318.5" fill="none" stroke="#000" stroke-width="1.0" />
<polyline points="40.0,334.5 881.0,334.5" fill="none" stroke="#000" stroke-width="1" />
<polyline points="40.5,334.5 57.2,335.8 73.8,336.2 90.5,336.6 107.2,336.9 123.9,337.1 140.5,337.4 157.2,337.7 173.9,337.9 190.5,338.2 207.2,338.4 223.9,338.6 240.5,338.8 257.2,339.0 273.9,339.2 290.6,339.4 307.2,339.6 323.9,339.8 340.6,340.0 357.2,340.2 373.9,340.4 390.6,340.4 407.2,340.4 423.9,340.4 440.6,340.4 457.3,340.4 473.9,340.4 490.6,340.4 507.3,340.4 523.9,340.4 540.6,340.4 557.3,340.4 573.9,340.4 590.6,340.4 607.3,340.4 624.0,340.4 640.6,340.4 657.3,340.4 674.0,340.4 690.6,340.4 707.3,340.4 724.0,340.4 740.6,340.4 757.3,340.4 774.0,340.4 790.7,340.4 807.3,340.4 824.0,340.4 840.7,340.4 857.3,340.4 874.0,340.4 878.5,340.4 879.5,340.6 881.0,340.6" fill="none" stroke="#000" stroke-width="1.0" />
<polyline points="40.5,334.5 57.2,337.3 73.8,338.3 90.5,339.1 107.2,339.7 123.9,340.2 140.5,340.8 157.2,341.3 173.9,341.7 190.5,342.1 207.2,342.5 223.9,342.8 240.5,343.1 257.2,343.3 273.9,343.5 290.6,343.8 307.2,344.1 323.9,344.4 340.6,344.7 357.2,345.0 373.9,345.2 390.6,345.7 407.2,346.1 423.9,346.6 440.6,347.0 457.3,347.5 473.9,347.6 490.6,347.6 507.3,347.7 523.9,347.7 540.6,347.8 557.3,347.9 573.9,348.0 590.6,348.2 607.3,348.3 624.0,348.4 640.6,348.6 657.3,348.8 674.0,349.0 690.6,349.2 707.3,349.4 724.0,349.4 740.6,349.4 757.3,349.4 774.0,349.4 790.7,349.4 807.3,349.6 824.0,349.8 840.7,350.0 857.3,350.2 874.0,350.4 878.5,350.4 879.5,350.4 881.0,350.4" fill="none" stroke="#000" stroke-width="1.0" />
<polyline points="40.5,334.5 57.2,338.8 73.8,340.4 90.5,341.6 107.2,342.5 123.9,343.4 140.5,344.3 157.2,345.2 173.9,346.0 190.5,346.8 207.2,347.5 223.9,348.0 240.5,348.4 257.2,348.8 273.9,349.1 290.6,349.4 307.2,350.0 323.9,350.7 340.6,351.3 357.2,351.9 373.9,352.5 390.6,352.9 407.2,353.3 423.9,353.7 440.6,354.0 457.3,354.4 473.9,354.6 490.6,354.9 507.3,355.1 523.9,355.3 540.6,355.5 557.3,355.7 573.9,355.8 590.6,356.0 607.3,356.1 624.0,356.2 640.6,356.5 657.3,356.8 674.0,357.0 690.6,357.3 707.3,357.5 724.0,357.6 740.6,357.8 757.3,357.9 774.0,358.0 790.7,358.1 807.3,358.3 824.0,358.5 840.7,358.7 857.3,358.9 874.0,359.1 878.5,359.1 879.5,359.5 881.0,359.5" fill="none" stroke="#000" stroke-width="1.0" />
<polyline points="40.5,334.5 57.2,340.7 73.8,342.9 90.5,344.6 107.2,346.0 123.9,347.2 140.5,348.5 157.2,349.7 173.9,350.7 190.5,351.8 207.2,352.8 223.9,353.4 240.5,354.0 257.2,354.6 273.9,355.1 290.6,355.6 307.2,356.4 323.9,357.2 340.6,357.9 357.2,358.7 373.9,359.4 390.6,359.9 407.2,360.3 423.9,360.7 440.6,361.1 457.3,361.5 473.9,362.1 490.6,362.7 507.3,363.3 523.9,363.8 540.6,364.4 557.3,364.6 573.9,364.8 590.6,365.0 607.3,365.1 624.0,365.2 640.6,365.7 657.3,366.2 674.0,366.6 690.6,367.1 707.3,367.5 724.0,367.7 740.6,367.9 757.3,368.1 774.0,368.3 790.7,368.5 807.3,368.7 824.0,368.9 840.7,369.1 857.3,369.2 874.0,369.4 878.5,369.4 879.5,369.7 881.0,369.7" fill="none" stroke="#000" stroke-width="1.0" />
<polyline points="40.5,334.5 57.2,342.6 73.8,345.6 90.5,347.8 107.2,349.6 123.9,351.2 140.5,352.9 157.2,354.4 173.9,355.9 190.5,357.2 207.2,358.5 223.9,359.4 240.5,360.3 257.2,361.1 273.9,361.8 290.6,362.5 307.2,363.5 323.9,364.6 340.6,365.6 357.2,366.5 373.9,367.5 390.6,368.1 407.2,368.7 423.9,369.2 440.6,369.8 457.3,370.2 473.9,371.0 490.6,371.7 507.3,372.4 523.9,373.1 540.6,373.8 557.3,374.3 573.9,374.8 590.6,375.3 607.3,375.8 624.0,376.2 640.6,376.7 657.3,377.2 674.0,377.6 690.6,378.1 707.3,378.5 724.0,378.7 740.6,378.9 757.3,379.1 774.0,379.2 790.7,379.4 807.3,379.8 824.0,380.3 840.7,380.7 857.3,381.1 874.0,381.5 878.5,381.5 879.5,381.6 881.0,381.6" fill="none" stroke="#000" stroke-width="1.0" />
<polyline points="40.5,334.5 57.2,344.9 73.8,348.7 90.5,351.6 107.2,353.9 123.9,356.0 140.5,358.0 157.2,359.9 173.9,361.6 190.5,363.2 207.2,364.8 223.9,366.1 240.5,367.3 257.2,368.5 273.9,369.6 290.6,370.6 307.2,371.8 323.9,373.0 340.6,374.1 357.2,375.2 373.9,376.2 390.6,377.1 407.2,378.0 423.9,378.8 440.6,379.6 457.3,380.4 473.9,381.2 490.6,382.1 507.3,382.9 523.9,383.6 540.6,384.4 557.3,384.8 573.9,385.2 590.6,385.6 607.3,385.9 624.0,386.2 640.6,386.9 657.3,387.6 674.0,388.2 690.6,388.9 707.3,389.5 724.0,390.1 740.6,390.7 757.3,391.3 774.0,391.9 790.7,392.5 807.3,392.8 824.0,393.0 840.7,393.2 857.3,393.4 874.0,393.6 878.5,393.6 879.5,394.3 881.0,394.3" fill="none" stroke="#000" stroke-width="1.0" />
<polyline points="40.5,334.5 57.2,347.5 73.8,352.2 90.5,355.8 107.2,358.7 123.9,361.2 140.5,363.8 157.2,366.2 173.9,368.4 190.5,370.5 207.2,372.5 223.9,374.2 240.5,375.8 257.2,377.4 273.9,378.8 290.6,380.2 307.2,381.4 323.9,382.5 340.6,383.6 357.2,384.6 373.9,385.5 390.6,386.7 407.2,387.9 423.9,389.0 440.6,390.2 457.3,391.2 473.9,392.2 490.6,393.1 507.3,393.9 523.9,394.8 540.6,395.6 557.3,396.4 573.9,397.2 590.6,397.9 607.3,398.7 624.0,399.4 640.6,400.1 657.3,400.7 674.0,401.3 690.6,401.9 707.3,402.5 724.0,403.3 740.6,404.0 757.3,404.8 774.0,405.5 790.7,406.2 807.3,406.9 824.0,407.5 840.7,408.2 857.3,408.8 874.0,409.4 878.5,409.4 879.5,409.6 881.0,409.6" fill="none" stroke="#000" stroke-width="1.0" />
<polyline points="40.5,334.5 57.2,351.0 73.8,357.0 90.5,361.5 107.2,365.3 123.9,368.5 140.5,371.6 157.2,374.5 173.9,377.1 190.5,379.6 207.2,381.9 223.9,383.9 240.5,385.7 257.2,387.4 273.9,389.0 290.6,390.5 307.2,392.2 323.9,393.8 340.6,395.3 357.2,396.8 373.9,398.2 390.6,399.7 407.2,401.1 423.9,402.4 440.6,403.7 457.3,405.0 473.9,406.4 490.6,407.8 507.3,409.2 523.9,410.6 540.6,411.9 557.3,412.7 573.9,413.4 590.6,414.1 607.3,414.8 624.0,415.4 640.6,416.1 657.3,416.7 674.0,417.3 690.6,417.9 707.3,418.5 724.0,419.5 740.6,420.5 757.3,421.5 774.0,422.5 790.7,423.5 807.3,424.3 824.0,425.0 840.7,425.8 857.3,426.5 874.0,427.2 878.5,427.2 879.5,427.7 881.0,427.7" fill="none" stroke="#000" stroke-width="1.0" />
<polyline points="40.5,334.5 57.2,356.4 73.8,364.4 90.5,370.3 107.2,375.3 123.9,379.6 140.5,383.6 157.2,387.2 173.9,390.5 190.5,393.5 207.2,396.2 223.9,398.7 240.5,401.0 257.2,403.1 273.9,405.1 290.6,406.9 307.2,408.9 323.9,410.9 340.6,412.8 357.2,414.5 373.9,416.2 390.6,417.9 407.2,419.5 423.9,421.1 440.6,422.6 457.3,424.0 473.9,425.6 490.6,427.1 507.3,428.6 523.9,430.0 540.6,431.4 557.3,432.6 573.9,433.8 590.6,434.9 607.3,436.0 624.0,437.1 640.6,438.6 657.3,440.1 674.0,441.5 690.6,443.0 707.3,444.4 724.0,445.2 740.6,446.0 757.3,446.7 774.0,447.4 790.7,448.1 807.3,449.2 824.0,450.3 840.7,451.4 857.3,452.5 874.0,453.5 878.5,453.5 879.5,454.8 881.0,454.8" fill="none" stroke="#000" stroke-width="1.0" />
<polyline points="40.5,334.5 56.2,383.0 70.0,398.3 74.2,403.3 90.0,415.8 106.7,422.2 123.8,429.5 207.0,462.5 242.0,477.0 259.5,482.5 290.2,487.5 337.0,495.8 373.8,502.5 456.8,511.8 540.8,521.8 623.8,531.8 706.8,540.0 760.0,544.7 787.0,548.4 881.0,548.4" fill="none" stroke="#000" stroke-width="1.0" />
</g>
<path d="M37.0 170.5H881.0M37.0 300.5H881.0M37.0 430.5H881.0" stroke="#686868" stroke-width="1" fill="none" shape-rendering="crispEdges"/>
<path d="M39 39H882V562H39ZM41 41V560H881V41Z" fill="#5e5e5e" fill-rule="evenodd"/>
<rect x="40" y="332.2" width="304" height="4.6" fill="#2a1414" opacity="0.85"/><rect x="40" y="332.9" width="304" height="3.2" fill="#00f8cc"/>
<polygon points="56.0,320.1 73.9,320.1 77.7,316.1 86.8,316.1 90.2,311.1 101.3,306.1 109.6,299.2 123.6,299.2 130.1,297.1 133.2,294.4 164.4,294.4 166.0,293.4 344.0,293.4 344.0,297.9 166.0,297.9 164.4,298.9 133.2,298.9 130.1,301.6 123.6,303.8 109.6,303.8 101.3,310.6 90.2,315.6 86.8,320.6 77.7,320.6 73.9,324.6 56.0,324.6" fill="#2a1414" opacity="0.85"/><polygon points="52.9,329.5 55.6,322.5 56.0,320.9 73.9,320.9 77.7,316.8 86.8,316.8 90.2,311.8 101.3,306.9 109.6,300.0 123.6,300.0 130.1,297.9 133.2,295.1 164.4,295.1 166.0,294.1 344.0,294.1 344.0,297.1 166.0,297.1 164.4,298.1 133.2,298.1 130.1,300.9 123.6,303.0 109.6,303.0 101.3,309.9 90.2,314.8 86.8,319.8 77.7,319.8 73.9,323.9 56.0,323.9 55.6,325.5 52.9,332.5" fill="#ffc800" stroke="#ffc800" stroke-width="0.3" stroke-linejoin="round"/><circle cx="52.9" cy="331" r="1.5" fill="#ffc800"/>
<text transform="translate(460.30,14.80) scale(1,1.080)" font-size="13.333" fill="#000" text-anchor="middle" stroke="#000" stroke-width="0.45">Poage Bankshares Inc - 2017</text>
<text transform="translate(459.00,25.60) scale(1,1.050)" font-size="11.667" font-weight="bold" fill="#000" text-anchor="middle" stroke="#000" stroke-width="0.2">Predicted High to Date (blue) &amp;  Low to Date (red)</text>
<text transform="translate(460.00,36.60) scale(1,1.200)" font-size="10.000" fill="#000" text-anchor="middle" stroke="#000" stroke-width="0.15">vol:1.09% iter:2000 step:10 hurst:0.57 drift:0.07/0</text>
<text transform="translate(35.20,41.50) rotate(-90) scale(1,1.200)" font-size="10.000" fill="#000" text-anchor="middle" stroke="#000" stroke-width="0.15">30</text>
<text transform="translate(35.20,171.50) rotate(-90) scale(1,1.200)" font-size="10.000" fill="#000" text-anchor="middle" stroke="#000" stroke-width="0.15">25</text>
<text transform="translate(35.20,301.50) rotate(-90) scale(1,1.200)" font-size="10.000" fill="#000" text-anchor="middle" stroke="#000" stroke-width="0.15">20</text>
<text transform="translate(35.20,431.50) rotate(-90) scale(1,1.200)" font-size="10.000" fill="#000" text-anchor="middle" stroke="#000" stroke-width="0.15">15</text>
<text transform="translate(35.20,561.50) rotate(-90) scale(1,1.200)" font-size="10.000" fill="#000" text-anchor="middle" stroke="#000" stroke-width="0.15">10</text>
<text transform="translate(39.50,572.10) scale(1,1.300)" font-size="10.000" fill="#000" text-anchor="middle" stroke="#000" stroke-width="0.15">0</text>
<text transform="translate(122.50,572.10) scale(1,1.300)" font-size="10.000" fill="#000" text-anchor="middle" stroke="#000" stroke-width="0.15">5</text>
<text transform="translate(205.50,572.10) scale(1,1.300)" font-size="10.000" fill="#000" text-anchor="middle" stroke="#000" stroke-width="0.15">10</text>
<text transform="translate(289.50,572.10) scale(1,1.300)" font-size="10.000" fill="#000" text-anchor="middle" stroke="#000" stroke-width="0.15">15</text>
<text transform="translate(372.50,572.10) scale(1,1.300)" font-size="10.000" fill="#000" text-anchor="middle" stroke="#000" stroke-width="0.15">20</text>
<text transform="translate(455.50,572.10) scale(1,1.300)" font-size="10.000" fill="#000" text-anchor="middle" stroke="#000" stroke-width="0.15">25</text>
<text transform="translate(539.50,572.10) scale(1,1.300)" font-size="10.000" fill="#000" text-anchor="middle" stroke="#000" stroke-width="0.15">30</text>
<text transform="translate(622.50,572.10) scale(1,1.300)" font-size="10.000" fill="#000" text-anchor="middle" stroke="#000" stroke-width="0.15">35</text>
<text transform="translate(705.50,572.10) scale(1,1.300)" font-size="10.000" fill="#000" text-anchor="middle" stroke="#000" stroke-width="0.15">40</text>
<text transform="translate(789.50,572.10) scale(1,1.300)" font-size="10.000" fill="#000" text-anchor="middle" stroke="#000" stroke-width="0.15">45</text>
<text transform="translate(872.50,572.10) scale(1,1.300)" font-size="10.000" fill="#000" text-anchor="middle" stroke="#000" stroke-width="0.15">50</text>
<text transform="translate(459.30,585.50) scale(1,1.050)" font-size="11.667" font-weight="bold" fill="#000" text-anchor="middle" stroke="#000" stroke-width="0.2">Week</text>
<text transform="translate(13.20,301.70) rotate(-90) scale(1,1.050)" font-size="11.667" font-weight="bold" fill="#000" text-anchor="middle" stroke="#000" stroke-width="0.2">Price ($)</text>
<rect x="19.2" y="318" width="15.8" height="32.8" fill="#e6fce6"/>
<text transform="translate(31.70,335.40) rotate(-90) scale(1,1.180)" font-size="10.000" font-weight="bold" fill="#000" text-anchor="middle" stroke="#000" stroke-width="0.25">18.69</text>
<text transform="translate(883.30,121.90) scale(1,1.120)" font-size="8.333" font-weight="bold" fill="#000" text-anchor="start" stroke="#000" stroke-width="0.55">26.88</text>
<text transform="translate(883.30,169.90) scale(1,1.120)" font-size="8.333" font-weight="bold" fill="#000" text-anchor="start" stroke="#000" stroke-width="0.55">25.04</text>
<text transform="translate(883.30,202.50) scale(1,1.120)" font-size="8.333" font-weight="bold" fill="#000" text-anchor="start" stroke="#000" stroke-width="0.55">23.79</text>
<text transform="translate(883.30,226.00) scale(1,1.120)" font-size="8.333" font-weight="bold" fill="#000" text-anchor="start" stroke="#000" stroke-width="0.55">22.88</text>
<text transform="translate(883.30,247.00) scale(1,1.120)" font-size="8.333" font-weight="bold" fill="#000" text-anchor="start" stroke="#000" stroke-width="0.55">22.07</text>
<text transform="translate(883.30,267.00) scale(1,1.120)" font-size="8.333" font-weight="bold" fill="#000" text-anchor="start" stroke="#000" stroke-width="0.55">21.30</text>
<text transform="translate(883.30,283.80) scale(1,1.120)" font-size="8.333" font-weight="bold" fill="#000" text-anchor="start" stroke="#000" stroke-width="0.55">20.66</text>
<text transform="translate(883.30,301.00) scale(1,1.120)" font-size="8.333" font-weight="bold" fill="#000" text-anchor="start" stroke="#000" stroke-width="0.55">20.00</text>
<text transform="translate(883.30,319.10) scale(1,1.120)" font-size="8.333" font-weight="bold" fill="#000" text-anchor="start" stroke="#000" stroke-width="0.55">19.30</text>
<text transform="translate(883.30,341.20) scale(1,1.120)" font-size="8.333" font-weight="bold" fill="#000" text-anchor="start" stroke="#000" stroke-width="0.55">18.43</text>
<text transform="translate(883.30,351.00) scale(1,1.120)" font-size="8.333" font-weight="bold" fill="#000" text-anchor="start" stroke="#000" stroke-width="0.55">18.06</text>
<text transform="translate(883.30,360.10) scale(1,1.120)" font-size="8.333" font-weight="bold" fill="#000" text-anchor="start" stroke="#000" stroke-width="0.55">17.70</text>
<text transform="translate(883.30,370.30) scale(1,1.120)" font-size="8.333" font-weight="bold" fill="#000" text-anchor="start" stroke="#000" stroke-width="0.55">17.31</text>
<text transform="translate(883.30,382.20) scale(1,1.120)" font-size="8.333" font-weight="bold" fill="#000" text-anchor="start" stroke="#000" stroke-width="0.55">16.86</text>
<text transform="translate(883.30,394.90) scale(1,1.120)" font-size="8.333" font-weight="bold" fill="#000" text-anchor="start" stroke="#000" stroke-width="0.55">16.38</text>
<text transform="translate(883.30,410.20) scale(1,1.120)" font-size="8.333" font-weight="bold" fill="#000" text-anchor="start" stroke="#000" stroke-width="0.55">15.80</text>
<text transform="translate(883.30,428.30) scale(1,1.120)" font-size="8.333" font-weight="bold" fill="#000" text-anchor="start" stroke="#000" stroke-width="0.55">15.10</text>
<text transform="translate(883.30,455.40) scale(1,1.120)" font-size="8.333" font-weight="bold" fill="#000" text-anchor="start" stroke="#000" stroke-width="0.55">14.07</text>
<text transform="translate(918.00,334.69) rotate(-90) scale(1,1.180)" font-size="10.000" font-weight="bold" fill="#009464" text-anchor="middle" stroke="#009464" stroke-width="0.25">18.6850</text>
<text transform="translate(918.00,295.62) rotate(-90) scale(1,1.180)" font-size="10.000" font-weight="bold" fill="#b07800" text-anchor="middle" stroke="#b07800" stroke-width="0.25">20.1877</text>
<text transform="translate(48.7,546.0) scale(1.7,1.1)" font-size="14" font-weight="bold" fill="#000078" text-anchor="middle">©</text>
<text transform="translate(57.00,544.50) scale(1,1.020)" font-size="11.667" font-weight="bold" fill="#000078" text-anchor="start" stroke="#000078" stroke-width="0.12">www.textbiz.org</text>
<text transform="translate(43.00,556.60) scale(1,1.020)" font-size="11.667" font-weight="bold" fill="#000078" text-anchor="start" stroke="#000078" stroke-width="0.12">The Research Foundation of SUNY</text>
<text transform="translate(282.30,597.60) scale(1,1.200)" font-size="10.000" fill="#000" text-anchor="start" stroke="#000" stroke-width="0.15">LTD</text>
<rect x="302" y="592" width="13" height="5" fill="#2a1414"/><rect x="302" y="592.8" width="13" height="3.4" fill="#00f8cc"/>
<text transform="translate(318.30,597.60) scale(1,1.200)" font-size="10.000" fill="#000" text-anchor="start" stroke="#000" stroke-width="0.15">HTD</text>
<rect x="338" y="592" width="13" height="5" fill="#2a1414"/><rect x="338" y="592.8" width="13" height="3.4" fill="#ffc800"/>
<text transform="translate(354.30,597.60) scale(1,1.200)" font-size="10.000" fill="#000" text-anchor="start" stroke="#000" stroke-width="0.15">prob:0%&lt;</text>
<rect x="404" y="587" width="15.5" height="6.5" fill="#fff4f4"/>
<rect x="404" y="593.5" width="15.5" height="6.5" fill="#f4f4ff"/>
<text transform="translate(420.60,597.60) scale(1,1.200)" font-size="10.000" fill="#000" text-anchor="start" stroke="#000" stroke-width="0.15">&lt;10%&lt;</text>
<rect x="452" y="587" width="15.5" height="6.5" fill="#ffdede"/>
<rect x="452" y="593.5" width="15.5" height="6.5" fill="#dedefe"/>
<text transform="translate(468.60,597.60) scale(1,1.200)" font-size="10.000" fill="#000" text-anchor="start" stroke="#000" stroke-width="0.15">&lt;20%&lt;</text>
<rect x="500" y="587" width="15.5" height="6.5" fill="#ffbfbf"/>
<rect x="500" y="593.5" width="15.5" height="6.5" fill="#bfbffe"/>
<text transform="translate(516.60,597.60) scale(1,1.200)" font-size="10.000" fill="#000" text-anchor="start" stroke="#000" stroke-width="0.15">&lt;30%&lt;</text>
<rect x="548" y="587" width="15.5" height="6.5" fill="#ffa0a0"/>
<rect x="548" y="593.5" width="15.5" height="6.5" fill="#a0a0fd"/>
<text transform="translate(564.60,597.60) scale(1,1.200)" font-size="10.000" fill="#000" text-anchor="start" stroke="#000" stroke-width="0.15">&lt;40%&lt;</text>
<rect x="596" y="587" width="15.5" height="6.5" fill="#fd8080"/>
<rect x="596" y="593.5" width="15.5" height="6.5" fill="#8080fc"/>
<text transform="translate(612.60,597.60) scale(1,1.200)" font-size="10.000" fill="#000" text-anchor="start" stroke="#000" stroke-width="0.15">&lt;50%</text>
</svg></body></html>
